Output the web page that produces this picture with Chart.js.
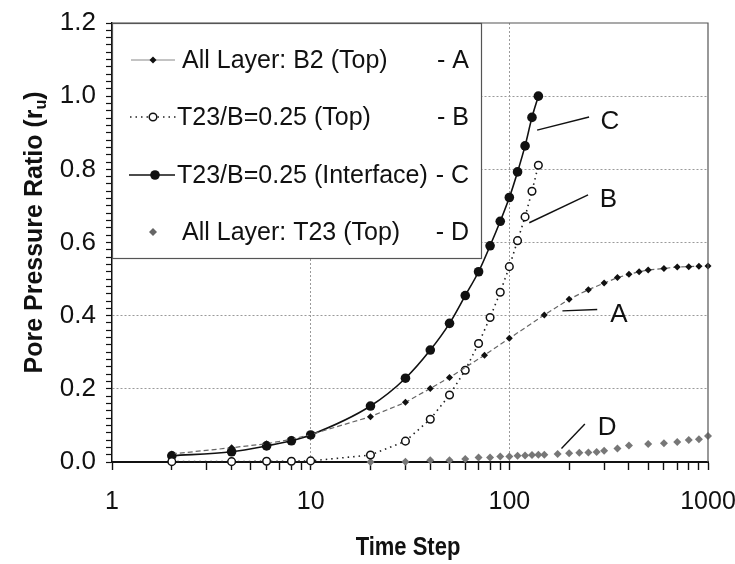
<!DOCTYPE html>
<html>
<head>
<meta charset="utf-8">
<script src="https://cdn.jsdelivr.net/npm/chart.js@4.4.1/dist/chart.umd.min.js"></script>
<style>
  html, body { margin: 0; padding: 0; background: #fff; }
  #wrap { width: 735px; height: 564px; }
</style>
</head>
<body>
<div id="wrap"><canvas id="chart" width="735" height="564"></canvas></div>
<script>
// series data (time step, pore pressure ratio r_u)
const timeA = [2, 4, 6, 8, 10, 20, 30, 40, 50, 75, 100, 150, 200, 250, 300, 350, 400, 450, 500, 600, 700, 800, 900, 1000];
const ruA = [0.022, 0.039, 0.050, 0.062, 0.075, 0.124, 0.163, 0.201, 0.231, 0.292, 0.338, 0.402, 0.445, 0.471, 0.489, 0.504, 0.513, 0.520, 0.525, 0.529, 0.533, 0.534, 0.535, 0.536];

const timeB = [2, 4, 6, 8, 10, 20, 30, 40, 50, 60, 70, 80, 90, 100, 110, 120, 130, 140];
const ruB = [0.001, 0.001, 0.002, 0.002, 0.003, 0.019, 0.057, 0.117, 0.183, 0.251, 0.324, 0.395, 0.464, 0.534, 0.605, 0.670, 0.740, 0.811];

const timeC = [2, 4, 6, 8, 10, 20, 30, 40, 50, 60, 70, 80, 90, 100, 110, 120, 130, 140];
const ruC = [0.017, 0.028, 0.044, 0.058, 0.074, 0.153, 0.229, 0.306, 0.379, 0.455, 0.520, 0.591, 0.658, 0.723, 0.793, 0.864, 0.942, 1.000];

const timeD = [2, 4, 6, 8, 10, 20, 30, 40, 50, 60, 70, 80, 90, 100, 110, 120, 130, 140, 150, 175, 200, 225, 250, 275, 300, 350, 400, 500, 600, 700, 800, 900, 1000];
const ruD = [0.000, 0.000, 0.000, 0.000, 0.000, 0.000, 0.001, 0.005, 0.005, 0.008, 0.012, 0.012, 0.015, 0.015, 0.017, 0.018, 0.019, 0.020, 0.020, 0.022, 0.024, 0.025, 0.026, 0.027, 0.031, 0.037, 0.045, 0.049, 0.051, 0.055, 0.060, 0.062, 0.071];

const seriesLabels = ['All Layer: B2 (Top)', 'T23/B=0.25 (Top)', 'T23/B=0.25 (Interface)', 'All Layer: T23 (Top)'];
const seriesTags = ['- A', '- B', '- C', '- D'];

const xTickLabels = [1, 10, 100, 1000];
const yTickLabels = [0.0, 0.2, 0.4, 0.6, 0.8, 1.0, 1.2];

// callout letters: label position and leader line ends, in data units
const callouts = [
  { tag: 'A', at: [356, 0.406], from: [185, 0.413], to: [277, 0.417] },
  { tag: 'B', at: [315, 0.720], from: [126, 0.654], to: [249, 0.730] },
  { tag: 'C', at: [321, 0.933], from: [138, 0.907], to: [252, 0.943] },
  { tag: 'D', at: [311, 0.096], from: [183, 0.037], to: [240, 0.104] }
];

const FONT = "'Liberation Sans', Arial, sans-serif";

const pts = (xs, ys) => xs.map((x, i) => ({ x: x, y: ys[i] }));
const isMajorY = v => Math.abs(v * 5 - Math.round(v * 5)) < 1e-6;

// minor log ticks 1..9 per decade
const xMinor = [];
for (let d = 1; d < 1000; d *= 10) {
  for (let k = 1; k < 10; k++) xMinor.push(k * d);
}
xMinor.push(1000);
const yMinor = [];
for (let i = 0; i <= 60; i++) yMinor.push(Math.round(i * 2) / 100);

function drawMarker(ctx, type, x, y) {
  ctx.save();
  if (type === 'A') {
    ctx.fillStyle = '#111';
    ctx.beginPath();
    ctx.moveTo(x, y - 3.5); ctx.lineTo(x + 3.5, y); ctx.lineTo(x, y + 3.5); ctx.lineTo(x - 3.5, y);
    ctx.closePath(); ctx.fill();
  } else if (type === 'B') {
    ctx.fillStyle = '#fff'; ctx.strokeStyle = '#111'; ctx.lineWidth = 1.5;
    ctx.beginPath(); ctx.arc(x, y, 3.8, 0, Math.PI * 2); ctx.fill(); ctx.stroke();
  } else if (type === 'C') {
    ctx.fillStyle = '#111';
    ctx.beginPath(); ctx.arc(x, y, 4.8, 0, Math.PI * 2); ctx.fill();
  } else {
    ctx.fillStyle = '#666';
    ctx.beginPath();
    ctx.moveTo(x, y - 4); ctx.lineTo(x + 4, y); ctx.lineTo(x, y + 4); ctx.lineTo(x - 4, y);
    ctx.closePath(); ctx.fill();
  }
  ctx.restore();
}

// condensed bold text (the figure uses a narrow bold face)
function narrowText(ctx, text, x, y, size, squeeze) {
  ctx.save();
  ctx.translate(x, y);
  ctx.scale(squeeze, 1);
  ctx.font = 'bold ' + size + 'px ' + FONT;
  ctx.fillText(text, 0, 0);
  ctx.restore();
}

const decorPlugin = {
  id: 'decor',
  afterDraw(chart) {
    const ctx = chart.ctx;
    const a = chart.chartArea;
    const xs = chart.scales.x, ys = chart.scales.y;

    // top and right frame
    ctx.save();
    ctx.strokeStyle = '#555'; ctx.lineWidth = 1.2;
    ctx.beginPath();
    ctx.moveTo(a.left, a.top); ctx.lineTo(a.right, a.top); ctx.lineTo(a.right, a.bottom);
    ctx.stroke();
    ctx.restore();

    // legend box inside the plot
    const lx = a.left, ly = a.top, lw = 369, lh = 235;
    ctx.save();
    ctx.fillStyle = '#fff';
    ctx.fillRect(lx + 1, ly + 1, lw - 1, lh - 1);
    ctx.strokeStyle = '#555'; ctx.lineWidth = 1.2;
    ctx.strokeRect(lx + 0.5, ly + 0.5, lw, lh);
    const rows = [60, 117, 175, 232];
    const types = ['A', 'B', 'C', 'D'];
    rows.forEach((ry, i) => {
      const t = types[i];
      ctx.save();
      if (t === 'A') {
        ctx.strokeStyle = '#888'; ctx.lineWidth = 1;
        ctx.beginPath(); ctx.moveTo(131, ry); ctx.lineTo(175, ry); ctx.stroke();
      } else if (t === 'B') {
        ctx.strokeStyle = '#222'; ctx.lineWidth = 1.5; ctx.setLineDash([1.5, 4]);
        ctx.beginPath(); ctx.moveTo(130, ry); ctx.lineTo(176, ry); ctx.stroke();
      } else if (t === 'C') {
        ctx.strokeStyle = '#111'; ctx.lineWidth = 1.6;
        ctx.beginPath(); ctx.moveTo(129, ry); ctx.lineTo(175, ry); ctx.stroke();
      }
      ctx.restore();
      drawMarker(ctx, t, t === 'C' ? 155 : 153, ry);
      ctx.fillStyle = '#111';
      ctx.font = '25px ' + FONT;
      ctx.textBaseline = 'middle';
      ctx.textAlign = 'left';
      ctx.fillText(seriesLabels[i], t === 'A' || t === 'D' ? 182 : 177, ry + 1);
      ctx.textAlign = 'right';
      ctx.fillText(seriesTags[i], 469, ry + 1);
    });
    ctx.restore();

    // callout letters with leader lines
    ctx.save();
    ctx.strokeStyle = '#111'; ctx.lineWidth = 1.4;
    ctx.fillStyle = '#111';
    ctx.font = '26px ' + FONT;
    ctx.textAlign = 'center'; ctx.textBaseline = 'middle';
    callouts.forEach(c => {
      ctx.beginPath();
      ctx.moveTo(xs.getPixelForValue(c.from[0]), ys.getPixelForValue(c.from[1]));
      ctx.lineTo(xs.getPixelForValue(c.to[0]), ys.getPixelForValue(c.to[1]));
      ctx.stroke();
      ctx.fillText(c.tag, xs.getPixelForValue(c.at[0]), ys.getPixelForValue(c.at[1]) + 1);
    });
    ctx.restore();

    // axis titles
    ctx.save();
    ctx.fillStyle = '#111';
    ctx.textAlign = 'center'; ctx.textBaseline = 'middle';
    narrowText(ctx, 'Time Step', (a.left + a.right) / 2 - 2, 548, 25, 0.88);
    ctx.restore();

    ctx.save();
    ctx.translate(35, (a.top + a.bottom) / 2 - 10);
    ctx.rotate(-Math.PI / 2);
    ctx.fillStyle = '#111';
    const main = 'Pore Pressure Ratio (r', sub = 'u', end = ')';
    ctx.font = 'bold 25px ' + FONT;
    const w1 = ctx.measureText(main).width, w3 = ctx.measureText(end).width;
    ctx.font = 'bold 16px ' + FONT;
    const w2 = ctx.measureText(sub).width;
    const x0 = -(w1 + w2 + w3) / 2;
    ctx.textBaseline = 'middle'; ctx.textAlign = 'left';
    ctx.font = 'bold 25px ' + FONT;
    ctx.fillText(main, x0, 0);
    ctx.font = 'bold 16px ' + FONT;
    ctx.fillText(sub, x0 + w1, 7);
    ctx.font = 'bold 25px ' + FONT;
    ctx.fillText(end, x0 + w1 + w2, 0);
    ctx.restore();
  }
};

new Chart(document.getElementById('chart'), {
  type: 'line',
  data: {
    datasets: [
      {
        label: seriesLabels[0],
        data: pts(timeA, ruA),
        borderColor: '#666', borderWidth: 1.2, borderDash: [5, 3],
        pointStyle: 'rectRot', pointRadius: 3.5, pointBackgroundColor: '#111', pointBorderColor: '#111', pointBorderWidth: 0,
        tension: 0, clip: false
      },
      {
        label: seriesLabels[1],
        data: pts(timeB, ruB),
        borderColor: '#222', borderWidth: 1.6, borderDash: [1.5, 4],
        pointStyle: 'circle', pointRadius: 3.8, pointBackgroundColor: '#fff', pointBorderColor: '#111', pointBorderWidth: 1.5,
        tension: 0, clip: false
      },
      {
        label: seriesLabels[2],
        data: pts(timeC, ruC),
        borderColor: '#111', borderWidth: 1.6,
        pointStyle: 'circle', pointRadius: 4.8, pointBackgroundColor: '#111', pointBorderColor: '#111', pointBorderWidth: 0,
        tension: 0.3, cubicInterpolationMode: 'monotone', clip: false
      },
      {
        label: seriesLabels[3],
        data: pts(timeD, ruD),
        showLine: false,
        pointStyle: 'rectRot', pointRadius: 4, pointBackgroundColor: '#777', pointBorderColor: '#777', pointBorderWidth: 0,
        clip: false
      }
    ]
  },
  options: {
    responsive: false,
    animation: false,
    layout: { padding: { top: 23, right: 27, left: 0, bottom: 0 } },
    plugins: { legend: { display: false }, tooltip: { enabled: false } },
    scales: {
      x: {
        type: 'logarithmic',
        min: 1, max: 1000,
        afterFit: s => { s.height = 102; s.paddingLeft = 0; s.paddingRight = 0; },
        afterBuildTicks: s => { s.ticks = xMinor.map(v => ({ value: v })); },
        ticks: {
          autoSkip: false, maxRotation: 0, minRotation: 0,
          padding: 17,
          color: '#111',
          font: { size: 25, family: FONT },
          callback: v => xTickLabels.includes(v) ? String(v) : ''
        },
        grid: {
          color: c => (c.tick && (c.tick.value === 10 || c.tick.value === 100)) ? '#9a9a9a' : 'rgba(0,0,0,0)',
          lineWidth: 1,
          tickColor: '#111', tickLength: 8, tickWidth: 1.4, tickBorderDash: []
        },
        border: { color: '#111', width: 2, dash: [2, 2] }
      },
      y: {
        min: 0, max: 1.2,
        afterFit: s => { s.width = 112; s.paddingTop = 0; s.paddingBottom = 0; },
        afterBuildTicks: s => { s.ticks = yMinor.map(v => ({ value: v })); },
        ticks: {
          autoSkip: false,
          padding: 10,
          color: '#111',
          font: { size: 26, family: FONT },
          callback: v => {
            if (!isMajorY(v)) return '';
            const hit = yTickLabels.find(t => Math.abs(t - v) < 1e-6);
            return hit === undefined ? '' : hit.toFixed(1);
          }
        },
        grid: {
          color: c => (c.tick && isMajorY(c.tick.value) && c.tick.value > 0.01 && c.tick.value < 1.19) ? '#9a9a9a' : 'rgba(0,0,0,0)',
          lineWidth: 1,
          tickColor: '#111', tickLength: 6, tickWidth: 1.2, tickBorderDash: []
        },
        border: { color: '#111', width: 1.5, dash: [2, 2] }
      }
    }
  },
  plugins: [decorPlugin]
});
</script>
</body>
</html>
